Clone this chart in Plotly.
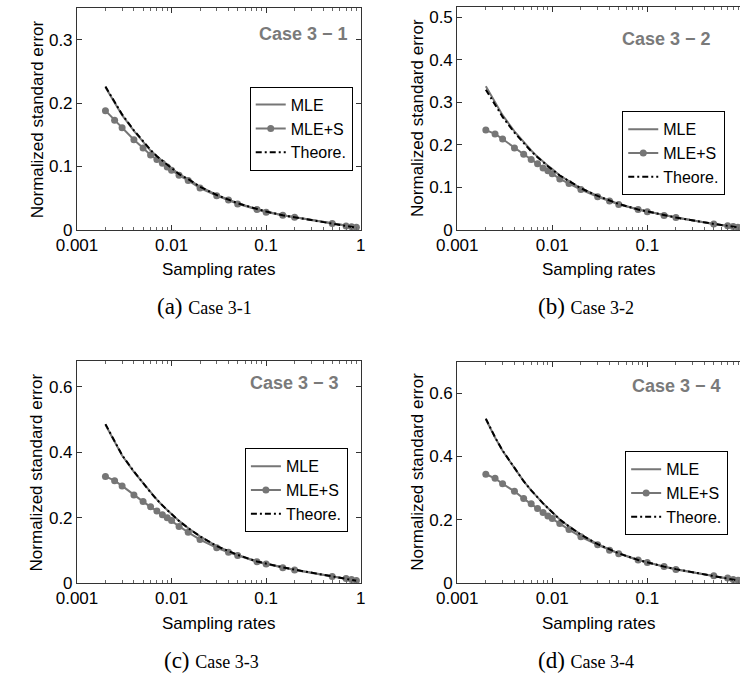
import plotly.graph_objects as go

# Sampling rates shared by all four cases
rates = [0.002, 0.0025, 0.003, 0.004, 0.005, 0.006, 0.007, 0.008, 0.009, 0.01,
         0.012, 0.015, 0.02, 0.03, 0.04, 0.05, 0.08, 0.1, 0.15, 0.2, 0.5, 0.7, 0.8, 0.9]

# Case 3-1
mle_1 = [0.225, 0.200, 0.181, 0.156, 0.138, 0.125, 0.116, 0.108, 0.102, 0.097, 0.088, 0.080,
         0.068, 0.055, 0.048, 0.042, 0.033, 0.029, 0.023, 0.020, 0.010, 0.006, 0.005, 0.004]
mles_1 = [0.188, 0.173, 0.161, 0.142, 0.129, 0.118, 0.111, 0.105, 0.099, 0.094, 0.086, 0.078,
          0.066, 0.054, 0.047, 0.041, 0.032, 0.028, 0.023, 0.020, 0.010, 0.006, 0.005, 0.004]
theo_1 = [0.226, 0.201, 0.182, 0.157, 0.139, 0.126, 0.116, 0.109, 0.102, 0.097, 0.088, 0.080,
          0.068, 0.055, 0.048, 0.042, 0.033, 0.029, 0.023, 0.020, 0.010, 0.0065, 0.005, 0.0035]

# Case 3-2
mle_2 = [0.338, 0.300, 0.270, 0.232, 0.206, 0.187, 0.172, 0.160, 0.151, 0.143, 0.128, 0.115,
         0.098, 0.080, 0.069, 0.061, 0.048, 0.043, 0.034, 0.029, 0.014, 0.010, 0.008, 0.006]
mles_2 = [0.235, 0.226, 0.214, 0.193, 0.178, 0.166, 0.156, 0.146, 0.139, 0.132, 0.120, 0.109,
          0.095, 0.078, 0.068, 0.060, 0.048, 0.043, 0.034, 0.029, 0.014, 0.010, 0.008, 0.006]
theo_2 = [0.330, 0.295, 0.266, 0.229, 0.204, 0.185, 0.171, 0.159, 0.150, 0.142, 0.128, 0.115,
          0.098, 0.080, 0.069, 0.061, 0.048, 0.043, 0.034, 0.029, 0.014, 0.010, 0.008, 0.006]

# Case 3-3
mle_3 = [0.484, 0.430, 0.390, 0.340, 0.305, 0.277, 0.255, 0.237, 0.223, 0.211, 0.190, 0.168,
         0.143, 0.113, 0.097, 0.086, 0.066, 0.059, 0.048, 0.041, 0.021, 0.014, 0.011, 0.008]
mles_3 = [0.326, 0.313, 0.297, 0.269, 0.249, 0.233, 0.220, 0.209, 0.200, 0.191, 0.173, 0.155,
          0.133, 0.108, 0.094, 0.084, 0.065, 0.058, 0.047, 0.040, 0.020, 0.014, 0.011, 0.008]
theo_3 = [0.486, 0.432, 0.391, 0.341, 0.305, 0.277, 0.255, 0.237, 0.223, 0.211, 0.190, 0.168,
          0.143, 0.113, 0.097, 0.086, 0.066, 0.059, 0.048, 0.041, 0.021, 0.014, 0.011, 0.007]

# Case 3-4
mle_4 = [0.518, 0.460, 0.418, 0.362, 0.322, 0.293, 0.270, 0.252, 0.237, 0.224, 0.201, 0.179,
         0.153, 0.123, 0.106, 0.094, 0.073, 0.065, 0.052, 0.044, 0.023, 0.015, 0.012, 0.008]
mles_4 = [0.344, 0.331, 0.314, 0.290, 0.267, 0.251, 0.236, 0.223, 0.212, 0.204, 0.188, 0.169,
          0.146, 0.121, 0.104, 0.093, 0.073, 0.065, 0.052, 0.043, 0.023, 0.016, 0.011, 0.009]
theo_4 = [0.520, 0.461, 0.419, 0.362, 0.322, 0.293, 0.270, 0.252, 0.237, 0.224, 0.201, 0.179,
          0.153, 0.123, 0.106, 0.094, 0.073, 0.065, 0.052, 0.044, 0.023, 0.015, 0.012, 0.008]

case_titles = ["Case 3 \u2212 1", "Case 3 \u2212 2", "Case 3 \u2212 3", "Case 3 \u2212 4"]
captions = [("(a)", "Case 3-1"), ("(b)", "Case 3-2"), ("(c)", "Case 3-3"), ("(d)", "Case 3-4")]
y_ticks = [[0, 0.1, 0.2, 0.3], [0, 0.1, 0.2, 0.3, 0.4, 0.5],
           [0, 0.2, 0.4, 0.6], [0, 0.2, 0.4, 0.6]]
y_tops = [0.35, 0.525, 0.68, 0.70]
x_ticks = [0.001, 0.01, 0.1, 1]
x_ticktext = ["0.001", "0.01", "0.1", "1"]
# minor log ticks: 2..9 within each decade
x_minor = [m * d for d in (0.001, 0.01, 0.1) for m in range(2, 10)]

W, H = 745, 684
SANS = "Liberation Sans, Arial, sans-serif"
SERIF = "Liberation Serif, Times New Roman, serif"
GRAY = "#767676"
FS = 17

# panel boxes in pixels: left, right, top, bottom
boxes = [(58, 352, 8, 233.3), (452, 745, 7, 233.3),
         (58, 352, 366, 591.7), (452, 745, 367, 591.7)]
x_right_log = [0, -0.025, 0, -0.025]
legend_pos = [(237, 88), (623, 113), (232, 455), (626, 458)]
title_pos = [(293, 35), (669, 40), (283, 389), (679, 392)]
caption_pos = [(190, 311), (585, 311), (197, 670), (585, 670)]
xlabel_pos = [(205, 274), (598, 274), (205, 633), (598, 633)]
ylabel_pos = [(17, 120.6), (411, 120), (17, 479), (411, 479)]

series = [(mle_1, mles_1, theo_1), (mle_2, mles_2, theo_2),
          (mle_3, mles_3, theo_3), (mle_4, mles_4, theo_4)]

fig = go.Figure()
layout = dict(width=W, height=H, margin=dict(l=0, r=0, t=0, b=0),
              paper_bgcolor="white", plot_bgcolor="white",
              font=dict(family=SANS, size=FS, color="black"),
              annotations=[])


def px(x, y):
    return x / W, 1 - y / H


for i, (mle, mles, theo) in enumerate(series):
    n = i + 1
    xa = "x" if n == 1 else f"x{n}"
    ya = "y" if n == 1 else f"y{n}"
    lg = "legend" if n == 1 else f"legend{n}"
    fig.add_trace(go.Scatter(x=rates, y=mle, mode="lines", name="MLE",
                             line=dict(color=GRAY, width=2), xaxis=xa, yaxis=ya, legend=lg))
    fig.add_trace(go.Scatter(x=rates, y=mles, mode="lines+markers", name="MLE+S",
                             line=dict(color=GRAY, width=2),
                             marker=dict(color=GRAY, size=7, symbol="circle"),
                             xaxis=xa, yaxis=ya, legend=lg))
    fig.add_trace(go.Scatter(x=rates, y=theo, mode="lines", name="Theore.",
                             line=dict(color="black", width=2, dash="6px,3px,2px,3px"),
                             xaxis=xa, yaxis=ya, legend=lg))

    l, r, t, b = boxes[i]
    xkey = "xaxis" if n == 1 else f"xaxis{n}"
    ykey = "yaxis" if n == 1 else f"yaxis{n}"
    clipped = x_right_log[i] < 0
    layout[xkey] = dict(
        type="log", range=[-3, x_right_log[i]], domain=[l / W, min(r / W, 1)],
        anchor=ya, tickvals=x_ticks, ticktext=x_ticktext,
        ticks="inside", ticklen=5, tickcolor="#333", showgrid=False, zeroline=False,
        showline=True, linecolor="#333", linewidth=1, mirror="ticks",
        minor=dict(tickvals=x_minor, ticks="inside", ticklen=3, tickcolor="#666",
                   showgrid=False),
        tickfont=dict(size=FS),
    )
    layout[ykey] = dict(
        range=[0, y_tops[i]], domain=[1 - b / H, 1 - t / H], anchor=xa,
        tickvals=y_ticks[i], ticktext=[("0" if v == 0 else f"{v:g}") for v in y_ticks[i]],
        ticks="inside", ticklen=5, tickcolor="#333", showgrid=False, zeroline=False,
        showline=True, linecolor="#333", linewidth=1,
        mirror=False if clipped else "ticks",
        tickfont=dict(size=FS),
    )
    lx, ly = legend_pos[i]
    layout[lg] = dict(x=lx / W, y=1 - ly / H, xanchor="left", yanchor="top",
                      bgcolor="white", bordercolor="black", borderwidth=1,
                      font=dict(size=16), itemwidth=30, tracegroupgap=0)

    tx, ty = px(*title_pos[i])
    layout["annotations"].append(dict(
        text=f"<b>{case_titles[i]}</b>", xref="paper", yref="paper",
        x=tx, y=ty, xanchor="center", yanchor="middle", showarrow=False,
        font=dict(size=18, color="#7a7a7a")))

    ax, ay = px(*xlabel_pos[i])
    layout["annotations"].append(dict(
        text="Sampling rates", xref="paper", yref="paper", x=ax, y=ay,
        xanchor="center", yanchor="middle", showarrow=False, font=dict(size=FS)))

    bx, by = px(*ylabel_pos[i])
    layout["annotations"].append(dict(
        text="Normalized standard error", xref="paper", yref="paper", x=bx, y=by,
        xanchor="center", yanchor="middle", textangle=-90, showarrow=False,
        font=dict(size=FS)))

    cx, cy = px(*caption_pos[i])
    tag, name = captions[i]
    layout["annotations"].append(dict(
        text=f"{tag} <span style='font-size:18px'>{name}</span>",
        xref="paper", yref="paper", x=cx, y=cy, xanchor="center", yanchor="middle",
        showarrow=False, font=dict(family=SERIF, size=23, color="black")))

fig.update_layout(**layout)
fig.write_html("out.html")
